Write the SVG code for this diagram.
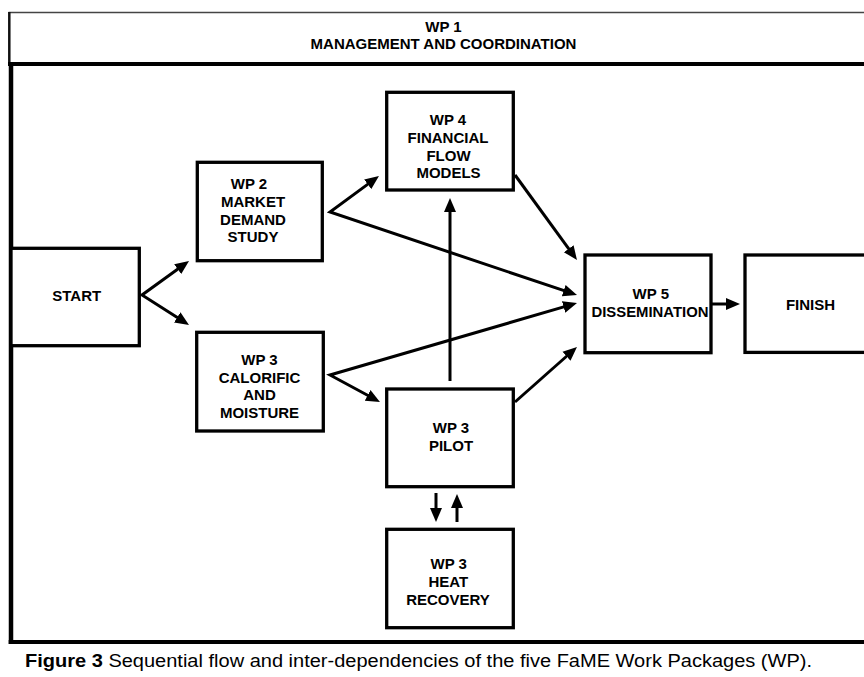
<svg xmlns="http://www.w3.org/2000/svg" width="864" height="677" viewBox="0 0 864 677">
<style>
  .box { fill: #fff; stroke: #000; stroke-width: 3.3; }
  .t { font-family: "Liberation Sans", Arial, sans-serif; font-weight: bold; font-size: 15px; fill: #000; text-anchor: middle; }
  .c { stroke: #000; stroke-width: 3; fill: none; stroke-linejoin: miter; stroke-miterlimit: 10; }
  .frame { stroke: #000; fill: none; }
</style>
<defs>
  <marker id="ah" viewBox="0 -7 16 14" markerWidth="16" markerHeight="14" refX="2" refY="0" orient="auto" markerUnits="userSpaceOnUse">
    <path d="M0,-6 L14,0 L0,6 z" fill="#000"/>
  </marker>
  <marker id="ahs" viewBox="0 -7 16 14" markerWidth="16" markerHeight="14" refX="2" refY="0" orient="auto-start-reverse" markerUnits="userSpaceOnUse">
    <path d="M0,-6 L14,0 L0,6 z" fill="#000"/>
  </marker>
</defs>
<rect x="0" y="0" width="864" height="677" fill="#fff"/>

<g id="frame">
  <line x1="8.5" y1="12.5" x2="864" y2="12.5" stroke="#444" stroke-width="1.6"/>
  <line x1="9.3" y1="12" x2="9.3" y2="64" stroke="#111" stroke-width="2.5"/>
  <line x1="8" y1="64" x2="864" y2="64" stroke="#000" stroke-width="4"/>
  <line x1="11" y1="62" x2="11" y2="644" stroke="#000" stroke-width="4.5"/>
  <line x1="8.7" y1="642" x2="864" y2="642" stroke="#000" stroke-width="4"/>
</g>

<g id="wp1">
  <text class="t" x="443.5" y="32.3">WP 1</text>
  <text class="t" x="443.5" y="49.3">MANAGEMENT AND COORDINATION</text>
</g>

<g id="connectors">
  <path class="c" d="M179.3,268 L142,295 L178.9,318.5" marker-start="url(#ahs)" marker-end="url(#ah)"/>
  <path class="c" d="M369.3,183.1 L330,212 L565.6,291.2" marker-start="url(#ahs)" marker-end="url(#ah)"/>
  <path class="c" d="M565.5,306.4 L330,375 L369.4,396.3" marker-start="url(#ahs)" marker-end="url(#ah)"/>
  <path class="c" d="M450,381 L450,210" marker-end="url(#ah)"/>
  <path class="c" d="M515,175 L569.9,250.3" marker-end="url(#ah)"/>
  <path class="c" d="M515,402 L568,355" marker-end="url(#ah)"/>
  <path class="c" d="M712,304 L728,304" marker-end="url(#ah)"/>
  <path class="c" d="M436,493 L436,510" marker-end="url(#ah)"/>
  <path class="c" d="M457,522 L457,506" marker-end="url(#ah)"/>
</g>

<g id="start">
  <rect class="box" x="11" y="248.3" width="128.3" height="97.4"/>
  <text class="t" x="76.7" y="301">START</text>
</g>

<g id="wp2">
  <rect class="box" x="197.3" y="162.3" width="125" height="98.4"/>
  <text class="t" x="249" y="189">WP 2</text>
  <text class="t" x="253" y="207">MARKET</text>
  <text class="t" x="253" y="224.5">DEMAND</text>
  <text class="t" x="253" y="242">STUDY</text>
</g>

<g id="wp3-calorific">
  <rect class="box" x="196.7" y="332.3" width="126.6" height="98.7"/>
  <text class="t" x="259.5" y="365">WP 3</text>
  <text class="t" x="259.5" y="382.7">CALORIFIC</text>
  <text class="t" x="259.5" y="400">AND</text>
  <text class="t" x="259.5" y="418.3">MOISTURE</text>
</g>

<g id="wp4">
  <rect class="box" x="386.7" y="92.3" width="126.6" height="97.7"/>
  <text class="t" x="448" y="125">WP 4</text>
  <text class="t" x="448" y="143.3">FINANCIAL</text>
  <text class="t" x="448.5" y="160.7">FLOW</text>
  <text class="t" x="448.5" y="178.3">MODELS</text>
</g>

<g id="wp3-pilot">
  <rect class="box" x="386.7" y="389" width="126.6" height="97.7"/>
  <text class="t" x="451" y="432.7">WP 3</text>
  <text class="t" x="451" y="451">PILOT</text>
</g>

<g id="wp3-heat">
  <rect class="box" x="386.7" y="529.3" width="126.6" height="98.4"/>
  <text class="t" x="448.7" y="569.3">WP 3</text>
  <text class="t" x="448.3" y="587.3">HEAT</text>
  <text class="t" x="448" y="605">RECOVERY</text>
</g>

<g id="wp5">
  <rect class="box" x="585" y="255" width="126" height="97.7"/>
  <text class="t" x="650.8" y="299.3">WP 5</text>
  <text class="t" x="650" y="316.7" textLength="117" lengthAdjust="spacingAndGlyphs">DISSEMINATION</text>
</g>

<g id="finish">
  <rect class="box" x="745" y="255" width="130" height="97.4"/>
  <text class="t" x="810.5" y="310">FINISH</text>
</g>

<text x="25" y="667" font-family="Liberation Sans, Arial, sans-serif" font-size="17.5" fill="#000" textLength="787" lengthAdjust="spacingAndGlyphs"><tspan font-weight="bold">Figure 3</tspan> Sequential flow and inter-dependencies of the five FaME Work Packages (WP).</text>
</svg>
